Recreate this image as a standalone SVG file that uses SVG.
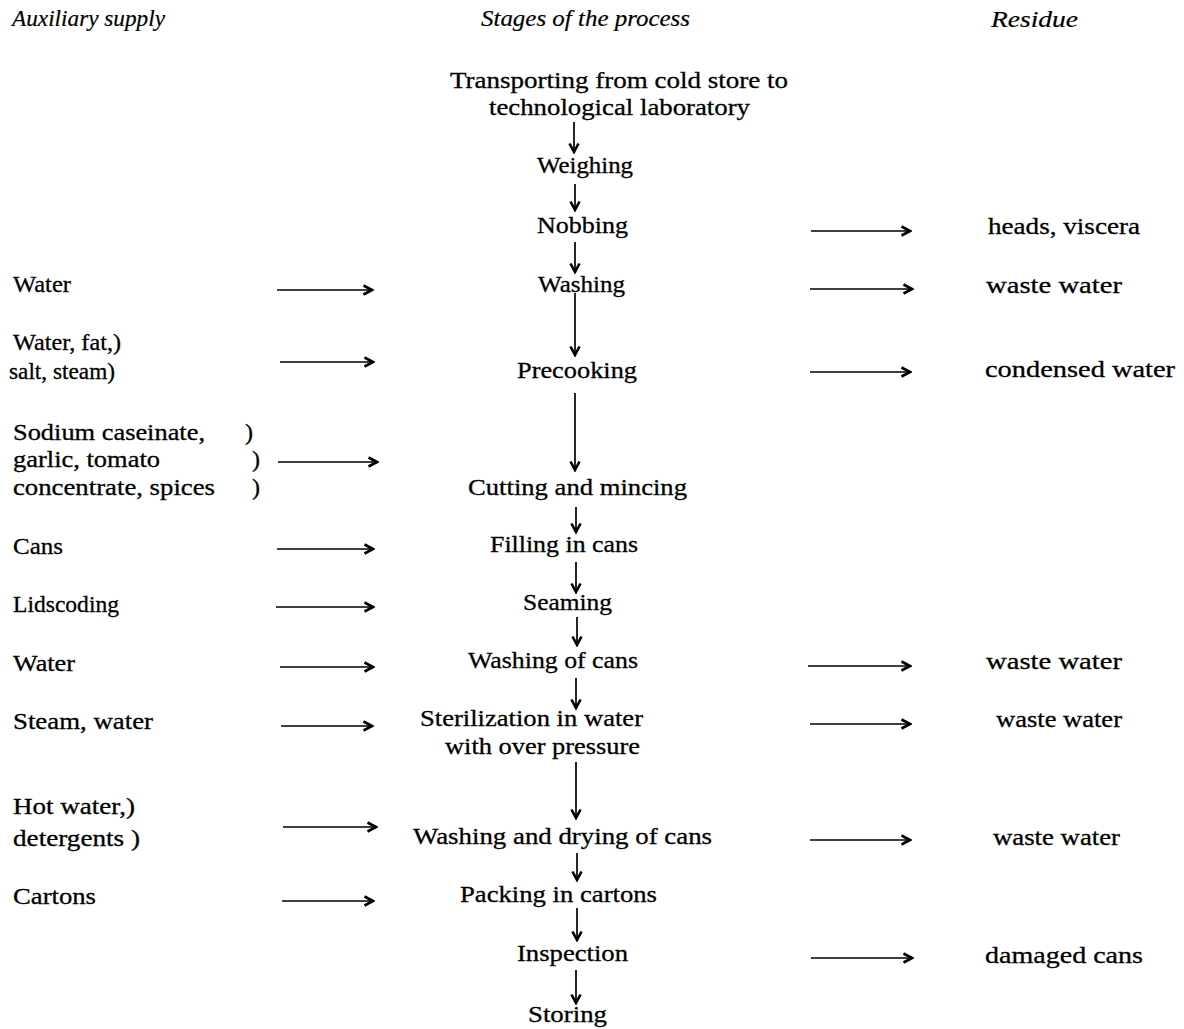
<svg xmlns="http://www.w3.org/2000/svg" width="1184" height="1029" viewBox="0 0 1184 1029">
<style>
text{font-family:"Liberation Serif","Times New Roman",serif;font-size:24px;fill:#000;stroke:#000;stroke-width:0.3;}
.h{font-style:italic;stroke-width:0.2;}
.conn line{stroke:#000;stroke-width:1.7;fill:none;}
</style>
<defs>
<marker id="ah" viewBox="0 0 12 12" refX="10.5" refY="6" markerWidth="12" markerHeight="12" markerUnits="userSpaceOnUse" orient="auto">
<path d="M2,1.5 L10.5,6 L2,10.5" fill="none" stroke="#000" stroke-width="2.6" stroke-linejoin="miter"/>
</marker>
</defs>
<rect width="1184" height="1029" fill="#fff" stroke="none"/>

<g id="headers">
<text class="h" x="12" y="26" textLength="153" lengthAdjust="spacingAndGlyphs">Auxiliary supply</text>
<text class="h" x="481" y="26" textLength="209" lengthAdjust="spacingAndGlyphs">Stages of the process</text>
<text class="h" x="991" y="27" textLength="87" lengthAdjust="spacingAndGlyphs">Residue</text>
</g>

<g id="stages">
<g id="s-transport"><text x="450" y="88" textLength="338" lengthAdjust="spacingAndGlyphs">Transporting from cold store to</text><text x="489" y="115" textLength="261" lengthAdjust="spacingAndGlyphs">technological laboratory</text></g>
<g id="s-weighing"><text x="537" y="173" textLength="96" lengthAdjust="spacingAndGlyphs">Weighing</text></g>
<g id="s-nobbing"><text x="537" y="233" textLength="91" lengthAdjust="spacingAndGlyphs">Nobbing</text></g>
<g id="s-washing"><text x="538" y="292" textLength="87" lengthAdjust="spacingAndGlyphs">Washing</text></g>
<g id="s-precooking"><text x="517" y="378" textLength="120" lengthAdjust="spacingAndGlyphs">Precooking</text></g>
<g id="s-cutting"><text x="468" y="495" textLength="219" lengthAdjust="spacingAndGlyphs">Cutting and mincing</text></g>
<g id="s-filling"><text x="490" y="552" textLength="148" lengthAdjust="spacingAndGlyphs">Filling in cans</text></g>
<g id="s-seaming"><text x="523" y="610" textLength="89" lengthAdjust="spacingAndGlyphs">Seaming</text></g>
<g id="s-washcans"><text x="468" y="668" textLength="170" lengthAdjust="spacingAndGlyphs">Washing of cans</text></g>
<g id="s-steril"><text x="420" y="726" textLength="223" lengthAdjust="spacingAndGlyphs">Sterilization in water</text><text x="445" y="754" textLength="195" lengthAdjust="spacingAndGlyphs">with over pressure</text></g>
<g id="s-washdry"><text x="413" y="844" textLength="299" lengthAdjust="spacingAndGlyphs">Washing and drying of cans</text></g>
<g id="s-packing"><text x="460" y="902" textLength="197" lengthAdjust="spacingAndGlyphs">Packing in cartons</text></g>
<g id="s-inspection"><text x="517" y="961" textLength="111" lengthAdjust="spacingAndGlyphs">Inspection</text></g>
<g id="s-storing"><text x="528" y="1022" textLength="79" lengthAdjust="spacingAndGlyphs">Storing</text></g>
</g>

<g id="supply">
<g id="a-water1"><text x="13" y="292" textLength="58" lengthAdjust="spacingAndGlyphs">Water</text></g>
<g id="a-precook"><text x="13" y="350" textLength="108" lengthAdjust="spacingAndGlyphs">Water, fat,)</text><text x="9" y="379" textLength="106" lengthAdjust="spacingAndGlyphs">salt, steam)</text></g>
<g id="a-sodium"><text x="13" y="440" textLength="192" lengthAdjust="spacingAndGlyphs">Sodium caseinate,</text><text x="245" y="440">)</text><text x="13" y="467" textLength="147" lengthAdjust="spacingAndGlyphs">garlic, tomato</text><text x="252" y="467">)</text><text x="13" y="495" textLength="202" lengthAdjust="spacingAndGlyphs">concentrate, spices</text><text x="252" y="495">)</text></g>
<g id="a-cans"><text x="13" y="554" textLength="50" lengthAdjust="spacingAndGlyphs">Cans</text></g>
<g id="a-lids"><text x="13" y="612" textLength="106" lengthAdjust="spacingAndGlyphs">Lidscoding</text></g>
<g id="a-water2"><text x="13" y="671" textLength="62" lengthAdjust="spacingAndGlyphs">Water</text></g>
<g id="a-steam"><text x="13" y="729" textLength="140" lengthAdjust="spacingAndGlyphs">Steam, water</text></g>
<g id="a-hot"><text x="13" y="814" textLength="122" lengthAdjust="spacingAndGlyphs">Hot water,)</text><text x="13" y="846" textLength="127" lengthAdjust="spacingAndGlyphs">detergents )</text></g>
<g id="a-cartons"><text x="13" y="904" textLength="83" lengthAdjust="spacingAndGlyphs">Cartons</text></g>
</g>

<g id="residue">
<g id="r-heads"><text x="988" y="234" textLength="152" lengthAdjust="spacingAndGlyphs">heads, viscera</text></g>
<g id="r-waste1"><text x="986" y="293" textLength="136" lengthAdjust="spacingAndGlyphs">waste water</text></g>
<g id="r-cond"><text x="985" y="377" textLength="190" lengthAdjust="spacingAndGlyphs">condensed water</text></g>
<g id="r-waste2"><text x="986" y="669" textLength="136" lengthAdjust="spacingAndGlyphs">waste water</text></g>
<g id="r-waste3"><text x="996" y="727" textLength="126" lengthAdjust="spacingAndGlyphs">waste water</text></g>
<g id="r-waste4"><text x="993" y="845" textLength="127" lengthAdjust="spacingAndGlyphs">waste water</text></g>
<g id="r-damaged"><text x="985" y="963" textLength="158" lengthAdjust="spacingAndGlyphs">damaged cans</text></g>
</g>

<g id="connectors" class="conn">
<line x1="574" y1="122" x2="574" y2="152" marker-end="url(#ah)"/>
<line x1="575" y1="184" x2="575" y2="210" marker-end="url(#ah)"/>
<line x1="575" y1="242" x2="575" y2="272" marker-end="url(#ah)"/>
<line x1="575" y1="293" x2="575" y2="355" marker-end="url(#ah)"/>
<line x1="575" y1="393" x2="575" y2="470" marker-end="url(#ah)"/>
<line x1="576" y1="507" x2="576" y2="532" marker-end="url(#ah)"/>
<line x1="576" y1="562" x2="576" y2="592" marker-end="url(#ah)"/>
<line x1="577" y1="617" x2="577" y2="645" marker-end="url(#ah)"/>
<line x1="576" y1="678" x2="576" y2="708" marker-end="url(#ah)"/>
<line x1="576" y1="762" x2="576" y2="818" marker-end="url(#ah)"/>
<line x1="577" y1="853" x2="577" y2="880" marker-end="url(#ah)"/>
<line x1="577" y1="908" x2="577" y2="940" marker-end="url(#ah)"/>
<line x1="576" y1="970" x2="576" y2="1003" marker-end="url(#ah)"/>

<line x1="277" y1="290" x2="372" y2="290" marker-end="url(#ah)"/>
<line x1="280" y1="362" x2="373" y2="362" marker-end="url(#ah)"/>
<line x1="278" y1="462" x2="377" y2="462" marker-end="url(#ah)"/>
<line x1="277" y1="549" x2="373" y2="549" marker-end="url(#ah)"/>
<line x1="276" y1="607" x2="373" y2="607" marker-end="url(#ah)"/>
<line x1="280" y1="667" x2="373" y2="667" marker-end="url(#ah)"/>
<line x1="281" y1="726" x2="372" y2="726" marker-end="url(#ah)"/>
<line x1="283" y1="827" x2="376" y2="827" marker-end="url(#ah)"/>
<line x1="282" y1="901" x2="373" y2="901" marker-end="url(#ah)"/>

<line x1="811" y1="231" x2="910" y2="231" marker-end="url(#ah)"/>
<line x1="810" y1="289" x2="912" y2="289" marker-end="url(#ah)"/>
<line x1="810" y1="372" x2="910" y2="372" marker-end="url(#ah)"/>
<line x1="808" y1="666" x2="910" y2="666" marker-end="url(#ah)"/>
<line x1="810" y1="724" x2="910" y2="724" marker-end="url(#ah)"/>
<line x1="810" y1="840" x2="910" y2="840" marker-end="url(#ah)"/>
<line x1="811" y1="958" x2="912" y2="958" marker-end="url(#ah)"/>
</g>
</svg>
